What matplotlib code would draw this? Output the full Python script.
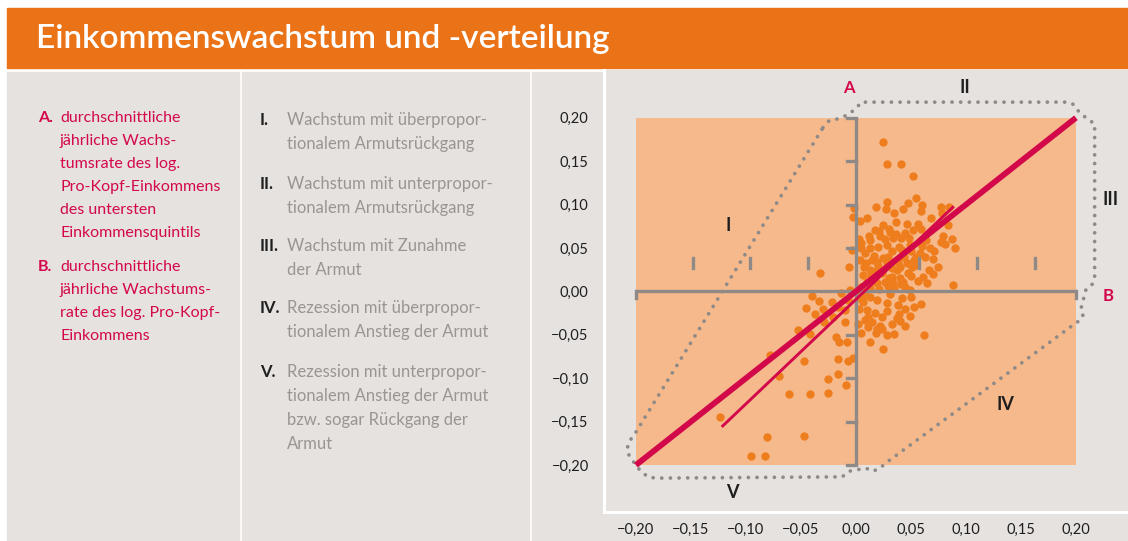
import matplotlib
matplotlib.use("Agg")
import matplotlib.pyplot as plt
from matplotlib.patches import Rectangle
from matplotlib.ticker import FixedLocator, FuncFormatter

plt.rcParams['font.family'] = ['Lato', 'DejaVu Sans']

# --- data ----------------------------------------------------------------
# B: mean annual growth of log per-capita income (x)
# A: mean annual growth of log per-capita income of the bottom quintile (y)
growth_b = [
    0.025, 0.028, 0.041, 0.052, 0.055, 0.028, 0.047, 0.018, 0.027, 0.043,
    0.059, 0.077, 0.085, 0.078, -0.003, 0.004, 0.010, 0.025, 0.036, 0.046,
    0.056, 0.084, 0.021, 0.031, 0.045, 0.052, 0.059, 0.079, 0.077, 0.081,
    0.013, 0.005, 0.022, 0.034, 0.041, 0.048, 0.067, 0.090, 0.005, 0.013,
    0.020, 0.028, 0.033, 0.029, 0.044, 0.055, 0.070, 0.055, 0.066, 0.075,
    0.047, 0.061, 0.033, 0.040, 0.088, 0.045, 0.035, 0.049, -0.006, -0.033,
    0.016, 0.025, 0.009, 0.004, 0.007, 0.013, 0.020, 0.024, 0.017, 0.006,
    0.010, 0.019, 0.026, 0.005, 0.013, 0.034, 0.037, 0.040, 0.046, 0.051,
    0.053, 0.028, 0.033, 0.019, 0.015, -0.004, -0.002, 0.002, 0.008, -0.005,
    0.042, 0.050, 0.059, 0.028, 0.038, 0.019, 0.013, 0.006, 0.010, 0.017,
    0.028, 0.024, 0.039, 0.049, 0.037, 0.040, 0.011, 0.008, 0.015, 0.002,
    0.011, 0.022, 0.019, 0.024, 0.005, 0.018, 0.035, 0.062, 0.025, -0.003,
    -0.040, -0.034, -0.045, -0.037, -0.030, -0.029, -0.021, -0.053, -0.042, -0.018,
    -0.015, -0.008, -0.078, -0.047, -0.016, -0.007, -0.070, -0.025, -0.016, -0.009,
    -0.061, -0.042, -0.025, -0.124, -0.081, -0.047, -0.095, -0.083, -0.014, -0.007,
    -0.010, -0.016, 0.004,
    0.017, 0.039, 0.049, 0.038, 0.018, 0.043, 0.058, 0.064,
    0.003, 0.008, 0.012, 0.026, 0.030, 0.036, 0.042, 0.050, 0.060, 0.063,
    0.071, 0.050, 0.056, 0.041, 0.029, 0.021, 0.014, 0.030, 0.065, 0.070,
    0.031, 0.045, 0.053, 0.033, 0.028, 0.013, 0.045, 0.003, -0.010, -0.022,
    0.087, 0.068, 0.060, 0.035,
]
growth_a = [
    0.172, 0.147, 0.147, 0.133, 0.108, 0.103, 0.102, 0.097, 0.095, 0.095,
    0.093, 0.097, 0.097, 0.090, 0.086, 0.081, 0.085, 0.077, 0.080, 0.078,
    0.078, 0.076, 0.070, 0.069, 0.067, 0.071, 0.072, 0.064, 0.057, 0.055,
    0.059, 0.056, 0.064, 0.061, 0.061, 0.062, 0.050, 0.050, 0.050, 0.050,
    0.051, 0.054, 0.047, 0.040, 0.040, 0.040, 0.037, 0.031, 0.025, 0.028,
    0.021, 0.017, 0.017, 0.016, 0.007, 0.005, 0.004, 0.002, 0.028, 0.021,
    0.041, 0.039, 0.033, 0.036, 0.028, 0.025, 0.029, 0.021, 0.017, 0.019,
    0.011, 0.010, 0.011, 0.005, 0.004, 0.010, 0.025, 0.028, 0.033, 0.028,
    0.036, 0.033, 0.027, 0.034, 0.036, 0.048, 0.096, 0.002, -0.004, 0.002,
    -0.007, -0.006, -0.014, -0.013, -0.016, -0.010, -0.006, -0.012, -0.021, -0.025,
    -0.022, -0.029, -0.026, -0.028, -0.031, -0.034, -0.029, -0.033, -0.035, -0.037,
    -0.041, -0.040, -0.043, -0.043, -0.048, -0.048, -0.049, -0.050, -0.066, -0.077,
    -0.005, -0.011, -0.019, -0.026, -0.020, -0.035, -0.029, -0.044, -0.049, -0.052,
    -0.058, -0.058, -0.073, -0.080, -0.078, -0.080, -0.097, -0.101, -0.095, -0.108,
    -0.118, -0.118, -0.117, -0.145, -0.168, -0.167, -0.190, -0.189, -0.002, -0.010,
    -0.021, -0.018, -0.007,
    0.071, 0.051, 0.054, 0.034, 0.023, 0.011, 0.044, 0.059,
    0.060, 0.044, 0.064, 0.060, 0.072, 0.066, 0.048, 0.046, 0.052, 0.040,
    0.046, 0.018, 0.012, 0.008, 0.006, 0.003, 0.018, 0.015, 0.010, 0.020,
    -0.003, -0.020, -0.018, -0.037, -0.050, -0.058, -0.040, -0.020, -0.035, -0.012,
    0.060, 0.085, 0.100, 0.090,
]

# diagonal y = x and fitted line (end points)
diag_x = [-0.20, 0.20]
diag_y = [-0.20, 0.20]
fit_x = [-0.122, 0.089]
fit_y = [-0.156, 0.098]

# dotted outline around the regions
outline_x = [-0.030, -0.0245, -0.0155, -0.0073, 0.0009, 0.0045, 0.192, 0.197,
             0.200, 0.209, 0.217, 0.217, 0.2145, 0.209, 0.2045, 0.2064, 0.2027,
             0.196, 0.027, 0.022, 0.0155, 0.009, -0.006, -0.0125, -0.181, -0.189,
             -0.1964, -0.2055, -0.2082, -0.2064, -0.200, -0.030]
outline_y = [0.1885, 0.1965, 0.199, 0.2035, 0.2115, 0.218, 0.218, 0.216,
             0.2103, 0.200, 0.193, 0.0167, 0.0075, 0.0017, -0.0202, -0.0282,
             -0.034, -0.040, -0.1977, -0.2035, -0.207, -0.2035, -0.207, -0.2135,
             -0.215, -0.2138, -0.2058, -0.1908, -0.1827, -0.1735, -0.162, 0.1885]

ticks = [-0.20, -0.15, -0.10, -0.05, 0.00, 0.05, 0.10, 0.15, 0.20]
inner_yticks = [-0.15, -0.10, -0.05, 0.05, 0.10, 0.15]
inner_xticks = [-0.148, -0.096, -0.044, 0.057, 0.110, 0.163]

region_labels = ['I', 'II', 'III', 'IV', 'V']
region_x = [-0.116, 0.099, 0.231, 0.136, -0.112]
region_y = [0.0755, 0.2345, 0.1055, -0.130, -0.231]

title = 'Einkommenswachstum und -verteilung'
legend_a = ['durchschnittliche', 'jährliche Wachs-', 'tumsrate des log.',
            'Pro-Kopf-Einkommens', 'des untersten', 'Einkommensquintils']
legend_b = ['durchschnittliche', 'jährliche Wachstums-', 'rate des log. Pro-Kopf-',
            'Einkommens']
cases = [
    ('I.', ['Wachstum mit überpropor-', 'tionalem Armutsrückgang']),
    ('II.', ['Wachstum mit unterpropor-', 'tionalem Armutsrückgang']),
    ('III.', ['Wachstum mit Zunahme', 'der Armut']),
    ('IV.', ['Rezession mit überpropor-', 'tionalem Anstieg der Armut']),
    ('V.', ['Rezession mit unterpropor-', 'tionalem Anstieg der Armut',
            'bzw. sogar Rückgang der', 'Armut']),
]

# --- colours ---------------------------------------------------------------
ORANGE = '#EB7317'
PANEL = '#E6E2E0'
SQUARE = '#F5B98B'
DOT = '#EE7D1E'
CRIMSON = '#D3084A'
GREY = '#8F8A87'
TXT_GREY = '#9A9593'
DARK = '#1E1E1E'

W, H = 1128, 541
fig = plt.figure(figsize=(W / 100, H / 100), dpi=100)
fig.patch.set_facecolor('white')


def fx(px):
    return px / W


def fy(py):
    return 1 - py / H


# header and panels
fig.patches.append(Rectangle((fx(7), fy(68)), fx(W - 7), 60 / H,
                             transform=fig.transFigure, color=ORANGE, zorder=-5))
for x0, x1 in [(7, 239), (242, 529), (532, W)]:
    fig.patches.append(Rectangle((fx(x0), 0), fx(x1 - x0), fy(72),
                                 transform=fig.transFigure, color=PANEL, zorder=-5))
fig.text(fx(36), fy(39), title, color='white', fontsize=24, va='center',
         fontweight='semibold')

# left panel
for lab, lines, y0 in [('A.', legend_a, 118), ('B.', legend_b, 267)]:
    fig.text(fx(38), fy(y0), lab, color=CRIMSON, fontsize=11.5,
             fontweight='bold', va='center')
    for i, line in enumerate(lines):
        fig.text(fx(60), fy(y0 + 23 * i), line, color=CRIMSON, fontsize=11.5,
                 va='center')

# middle panel
starts = [120, 184, 246, 308, 372]
for (num, lines), y0 in zip(cases, starts):
    fig.text(fx(260), fy(y0), num, color=DARK, fontsize=12,
             fontweight='bold', va='center')
    for i, line in enumerate(lines):
        fig.text(fx(287), fy(y0 + 24 * i), line, color=TXT_GREY, fontsize=12,
                 va='center')

# chart
ax = fig.add_axes([fx(604), fy(512), fx(W - 604), (512 - 70) / H])
ax.set_zorder(5)
ax.set_facecolor(PANEL)
ax.set_xlim(-0.229, 0.2473)
ax.set_ylim(-0.254, 0.255)

ax.add_patch(Rectangle((-0.2, -0.2), 0.4, 0.4, color=SQUARE, zorder=1, lw=0))
ax.scatter(growth_b, growth_a, s=36, color=DOT, lw=0, zorder=2)
ax.plot(outline_x, outline_y, color=GREY, lw=2.7, ls=(0, (0.01, 2.3)),
        dash_capstyle='round', zorder=3, clip_on=False)

# inner cross with caps and stubs
ax.plot([-0.2, 0.2], [0, 0], color=GREY, lw=2.4, zorder=4, solid_capstyle='butt')
ax.plot([0, 0], [-0.2, 0.2], color=GREY, lw=2.4, zorder=4, solid_capstyle='butt')
for xe in (-0.2, 0.2):
    ax.plot([xe, xe], [0, -0.008], color=GREY, lw=2.4, zorder=4)
for ye in (-0.2, 0.2):
    ax.plot([-0.008, 0], [ye, ye], color=GREY, lw=2.4, zorder=4)
for yt in inner_yticks:
    ax.plot([-0.008, 0], [yt, yt], color=GREY, lw=2.4, zorder=4)
for xt in inner_xticks:
    ax.plot([xt, xt], [0.027, 0.039], color=GREY, lw=2.4, zorder=4)

ax.plot(diag_x, diag_y, color=CRIMSON, lw=4.2, zorder=5, solid_capstyle='butt')
ax.plot(fit_x, fit_y, color=CRIMSON, lw=2.1, zorder=5, solid_capstyle='butt')

for lab, x, y in zip(region_labels, region_x, region_y):
    ax.text(x, y, lab, color=DARK, fontsize=13, fontweight='bold',
            ha='center', va='center')
ax.text(-0.006, 0.2345, 'A', color=CRIMSON, fontsize=12, fontweight='bold',
        ha='center', va='center')
ax.text(0.229, -0.005, 'B', color=CRIMSON, fontsize=12, fontweight='bold',
        ha='center', va='center')

# outer frame: white left/bottom spines, white tick only at 0
for side in ('top', 'right'):
    ax.spines[side].set_visible(False)
for side in ('left', 'bottom'):
    ax.spines[side].set_color('white')
    ax.spines[side].set_linewidth(2.2)
fmt = FuncFormatter(lambda v, p: f'{v:.2f}'.replace('.', ',').replace('-', '\u2212'))
ax.xaxis.set_major_locator(FixedLocator(ticks))
ax.yaxis.set_major_locator(FixedLocator(ticks))
ax.xaxis.set_major_formatter(fmt)
ax.yaxis.set_major_formatter(fmt)
ax.xaxis.set_minor_locator(FixedLocator([0.0]))
ax.yaxis.set_minor_locator(FixedLocator([0.0]))
ax.tick_params(which='major', length=0, labelsize=10.5, labelcolor=DARK)
ax.tick_params(axis='x', which='major', pad=8)
ax.tick_params(axis='y', which='major', pad=11)
ax.tick_params(which='minor', length=8, width=2.2, color='white', direction='in')

fig.savefig('out.png', dpi=100)
